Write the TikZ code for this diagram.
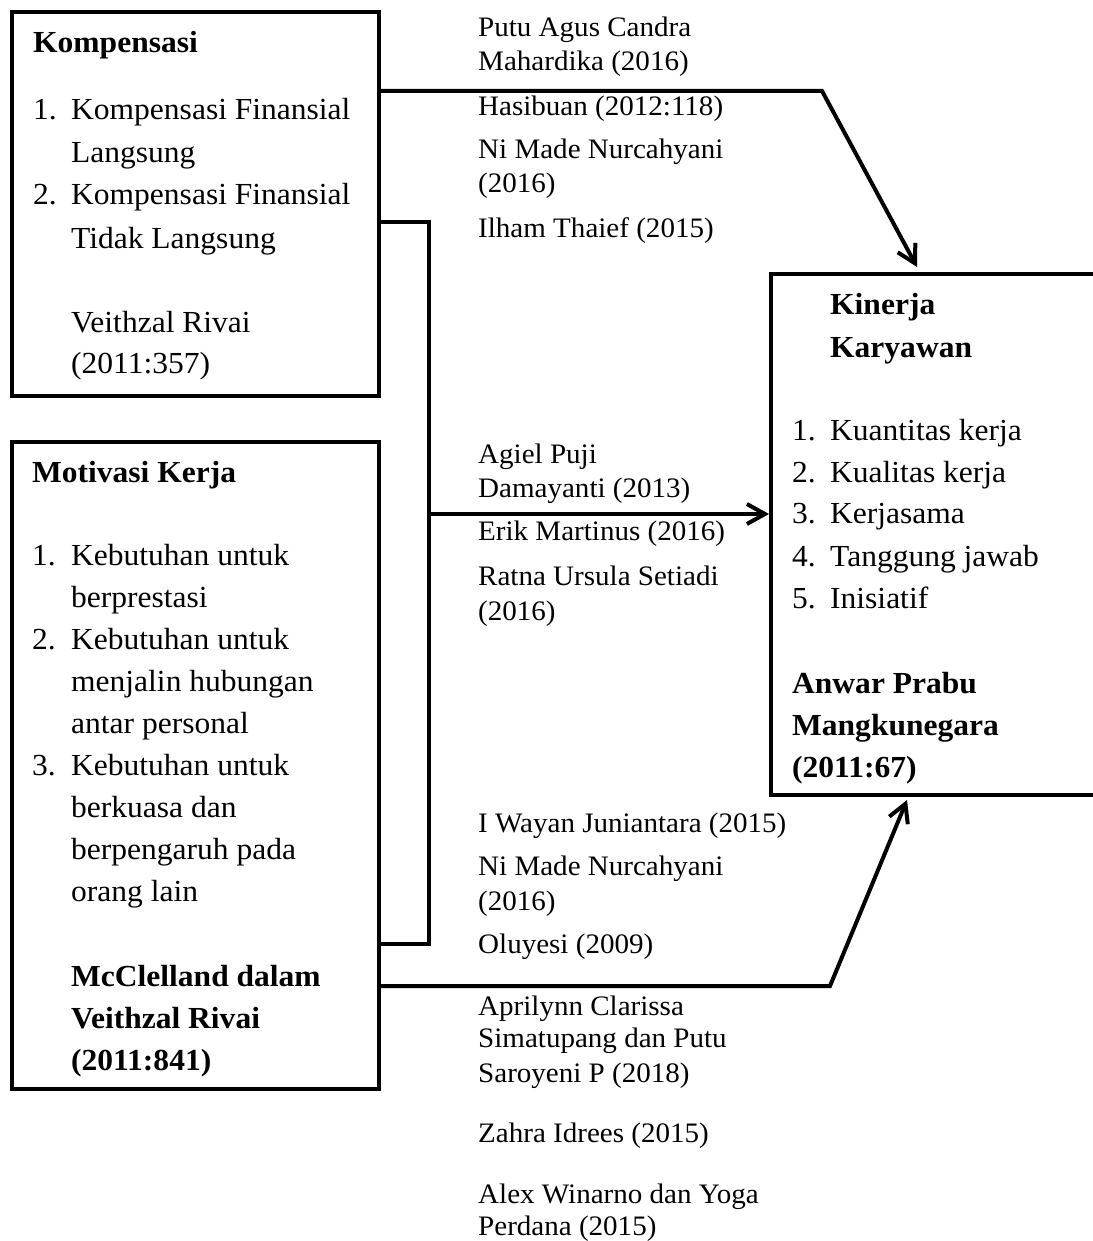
\documentclass[tikz,border=0pt]{standalone}
\usepackage{fontspec}
\setmainfont{Liberation Serif}
\newfontfamily\boxfont{Liberation Serif}[FakeStretch=1.03]
\newfontfamily\labfont{Liberation Serif}[FakeStretch=1.03]
\usetikzlibrary{arrows.meta}
\begin{document}
\begin{tikzpicture}[x=1pt,y=1pt,
  frame/.style={draw, line width=4pt, inner sep=0pt, outer sep=0pt, anchor=north west},
  bt/.style={anchor=base west, inner sep=0pt, font=\boxfont\fontsize{30.6}{34}\selectfont},
  bb/.style={anchor=base west, inner sep=0pt, font=\boxfont\bfseries\fontsize{30.6}{34}\selectfont},
  lt/.style={anchor=base west, inner sep=0pt, font=\labfont\fontsize{28.2}{32}\selectfont},
  conn/.style={line width=4pt},
  arr/.style={conn, -{Straight Barb[length=18pt,width=20pt]}}]
\fill[white] (0,0) rectangle (1092,-1241);
\useasboundingbox (0,0) rectangle (1092,-1241);

% boxes
\node[frame, minimum width=367.5pt, minimum height=384pt] (kbox) at (11.5,-12) {};
\node[frame, minimum width=367pt, minimum height=647pt] (mbox) at (11.5,-442) {};
\node[frame, minimum width=340pt, minimum height=521pt] (kk) at (771,-274) {};

% Kompensasi
\node[bb] (k0) at (33,-53) {Kompensasi};
\node[bt] (k1n) at (33,-120) {1.};
\node[bt] (k1) at (71,-120) {Kompensasi Finansial};
\node[bt] (k1b) at (71,-163) {Langsung};
\node[bt] (k2n) at (33,-205) {2.};
\node[bt] (k2) at (71,-205) {Kompensasi Finansial};
\node[bt] (k2b) at (71,-248) {Tidak Langsung};
\node[bt] (k3) at (71,-332) {Veithzal Rivai};
\node[bt] (k4) at (71,-373) {(2011:357)};

% Motivasi
\node[bb] (m0) at (32,-482) {Motivasi Kerja};
\node[bt] (m1n) at (32,-565) {1.};
\node[bt] (m1) at (71,-565) {Kebutuhan untuk};
\node[bt] (m1b) at (71,-607) {berprestasi};
\node[bt] (m2n) at (32,-649) {2.};
\node[bt] (m2) at (71,-649) {Kebutuhan untuk};
\node[bt] (m2b) at (71,-691) {menjalin hubungan};
\node[bt] (m2c) at (71,-733) {antar personal};
\node[bt] (m3n) at (32,-775) {3.};
\node[bt] (m3) at (71,-775) {Kebutuhan untuk};
\node[bt] (m3b) at (71,-817) {berkuasa dan};
\node[bt] (m3c) at (71,-859) {berpengaruh pada};
\node[bt] (m3d) at (71,-901) {orang lain};
\node[bb] (m4) at (71,-986) {McClelland dalam};
\node[bb] (m5) at (71,-1028) {Veithzal Rivai};
\node[bb] (m6) at (71,-1070) {(2011:841)};

% Kinerja
\node[bb] (p0) at (830,-314) {Kinerja};
\node[bb] (p0b) at (830,-357) {Karyawan};
\node[bt] (p1n) at (792,-440) {1.};
\node[bt] (p1) at (830,-440) {Kuantitas kerja};
\node[bt] (p2n) at (792,-482) {2.};
\node[bt] (p2) at (830,-482) {Kualitas kerja};
\node[bt] (p3n) at (792,-523.5) {3.};
\node[bt] (p3) at (830,-523.5) {Kerjasama};
\node[bt] (p4n) at (792,-566) {4.};
\node[bt] (p4) at (830,-566) {Tanggung jawab};
\node[bt] (p5n) at (792,-608) {5.};
\node[bt] (p5) at (830,-608) {Inisiatif};
\node[bb] (p6) at (792,-693) {Anwar Prabu};
\node[bb] (p7) at (792,-735) {Mangkunegara};
\node[bb] (p8) at (792,-777) {(2011:67)};

% labels top
\node[lt] (t1) at (478,-36.7) {Putu Agus Candra};
\node[lt] (t2) at (478,-70.7) {Mahardika (2016)};
\node[lt] (t3) at (478,-116) {Hasibuan (2012:118)};
\node[lt] (t4) at (478,-159) {Ni Made Nurcahyani};
\node[lt] (t5) at (478,-193) {(2016)};
\node[lt] (t6) at (478,-238) {Ilham Thaief (2015)};
% labels middle
\node[lt] (c1l) at (478,-463) {Agiel Puji};
\node[lt] (c2l) at (478,-497) {Damayanti (2013)};
\node[lt] (c3l) at (478,-540) {Erik Martinus (2016)};
\node[lt] (c4l) at (478,-585) {Ratna Ursula Setiadi};
\node[lt] (c5l) at (478,-620) {(2016)};
% labels bottom
\node[lt] (b1l) at (478,-832) {I Wayan Juniantara (2015)};
\node[lt] (b2l) at (478,-875) {Ni Made Nurcahyani};
\node[lt] (b3l) at (478,-910) {(2016)};
\node[lt] (b4l) at (478,-953) {Oluyesi (2009)};
\node[lt] (b5l) at (478,-1015) {Aprilynn Clarissa};
\node[lt] (b6l) at (478,-1047) {Simatupang dan Putu};
\node[lt] (b7l) at (478,-1082) {Saroyeni P (2018)};
\node[lt] (b8l) at (478,-1142) {Zahra Idrees (2015)};
\node[lt] (b9l) at (478,-1203) {Alex Winarno dan Yoga};
\node[lt] (b10l) at (478,-1235) {Perdana (2015)};

% connectors
\coordinate (a1) at (822,-91);
\coordinate (a2) at (917,-267);
\draw[arr] (kbox.east |- a1) -- (a1) -- (a2);

\coordinate (j1) at (428.5,-222);
\coordinate (j2) at (428.5,-944);
\coordinate (jm) at (428.5,-514);
\draw[conn] (kbox.east |- j1) -- (j1) -- (j2) -- (mbox.east |- j2);
\draw[arr, shorten >=2pt] (jm) -- (kk.west |- jm);

\coordinate (d1) at (830,-986);
\coordinate (d2) at (907,-800);
\draw[arr] (mbox.east |- d1) -- (d1) -- (d2);
\end{tikzpicture}
\end{document}
